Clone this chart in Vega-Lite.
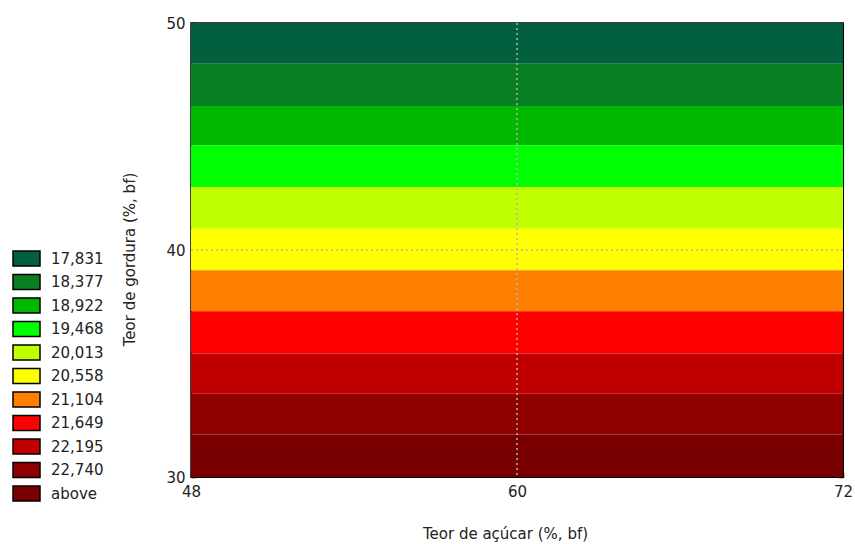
{
  "$schema": "https://vega.github.io/schema/vega-lite/v6.json",
  "width": 652,
  "height": 454,
  "autosize": "none",
  "padding": {"left": 191, "top": 23, "right": 12, "bottom": 67},
  "background": "white",
  "config": {
    "font": "DejaVu Sans",
    "view": {"stroke": "#000000", "strokeWidth": 1.5},
    "axis": {"labelFont": "DejaVu Sans", "titleFont": "DejaVu Sans", "labelColor": "#222222", "titleColor": "#222222", "titleFontWeight": "normal", "labelFontSize": 15, "titleFontSize": 15, "tickColor": "#000000", "domainColor": "#000000", "grid": false, "tickSize": -5, "tickWidth": 1.5}
  },
  "datasets": {
    "bands": [
      {"level": "17,831", "x0": 48, "x1": 72, "y0": 48.21, "y1": 50},
      {"level": "18,377", "x0": 48, "x1": 72, "y0": 46.34, "y1": 48.21},
      {"level": "18,922", "x0": 48, "x1": 72, "y0": 44.61, "y1": 46.34},
      {"level": "19,468", "x0": 48, "x1": 72, "y0": 42.78, "y1": 44.61},
      {"level": "20,013", "x0": 48, "x1": 72, "y0": 40.94, "y1": 42.78},
      {"level": "20,558", "x0": 48, "x1": 72, "y0": 39.11, "y1": 40.94},
      {"level": "21,104", "x0": 48, "x1": 72, "y0": 37.3, "y1": 39.11},
      {"level": "21,649", "x0": 48, "x1": 72, "y0": 35.44, "y1": 37.3},
      {"level": "22,195", "x0": 48, "x1": 72, "y0": 33.67, "y1": 35.44},
      {"level": "22,740", "x0": 48, "x1": 72, "y0": 31.87, "y1": 33.67},
      {"level": "above", "x0": 48, "x1": 72, "y0": 30, "y1": 31.87}
    ],
    "gridx": [{"gx": 60}],
    "gridy": [{"gy": 40}]
  },
  "layer": [
    {
      "data": {"name": "bands"},
      "mark": {"type": "rect", "opacity": 1, "stroke": null},
      "encoding": {
        "x": {"field": "x0", "type": "quantitative", "scale": {"domain": [48, 72], "nice": false, "zero": false},
              "axis": {"title": "Teor de açúcar (%, bf)", "values": [48, 51, 54, 57, 60, 63, 66, 69, 72], "labelExpr": "datum.value % 12 === 0 ? datum.label : ''", "labelPadding": 12, "titlePadding": 27, "titleX": 314, "labelFlush": false}},
        "x2": {"field": "x1"},
        "y": {"field": "y0", "type": "quantitative", "scale": {"domain": [30, 50], "nice": false, "zero": false},
              "axis": {"title": "Teor de gordura (%, bf)", "values": [30, 32.5, 35, 37.5, 40, 42.5, 45, 47.5, 50], "labelExpr": "datum.value % 10 === 0 ? datum.label : ''", "labelPadding": 11, "titlePadding": 28, "titleY": 236, "labelFlush": false}},
        "y2": {"field": "y1"},
        "color": {"field": "level", "type": "nominal",
                  "scale": {"domain": ["17,831", "18,377", "18,922", "19,468", "20,013", "20,558", "21,104", "21,649", "22,195", "22,740", "above"],
                            "range": ["#03603F", "#077F22", "#00B800", "#00FF00", "#C0FF00", "#FFFF00", "#FF8000", "#FF0000", "#C00000", "#900000", "#780000"]},
                  "legend": {"title": null, "orient": "none", "legendX": -173, "legendY": 227,
                             "symbolType": "M-1.8,-1L1.8,-1L1.8,1L-1.8,1Z", "symbolSize": 225, "symbolStrokeColor": "#000000", "symbolStrokeWidth": 1.5, "symbolOpacity": 1,
                             "labelFontSize": 15, "labelFont": "DejaVu Sans", "labelColor": "#222222", "labelOffset": 16, "rowPadding": 2.5}}
      }
    },
    {
      "data": {"name": "gridx"},
      "mark": {"type": "rule", "color": "#b4b4b4", "strokeDash": [2, 3], "strokeWidth": 1.5},
      "encoding": {"x": {"field": "gx", "type": "quantitative", "title": "Teor de açúcar (%, bf)"}}
    },
    {
      "data": {"name": "gridy"},
      "mark": {"type": "rule", "color": "#b4b4b4", "strokeDash": [2, 3], "strokeWidth": 1.5},
      "encoding": {"y": {"field": "gy", "type": "quantitative",
                         "axis": {"orient": "right", "title": null, "labels": false, "values": [30, 32.5, 35, 37.5, 40, 42.5, 45, 47.5, 50]}}}
    }
  ],
  "resolve": {"axis": {"y": "independent"}}
}
